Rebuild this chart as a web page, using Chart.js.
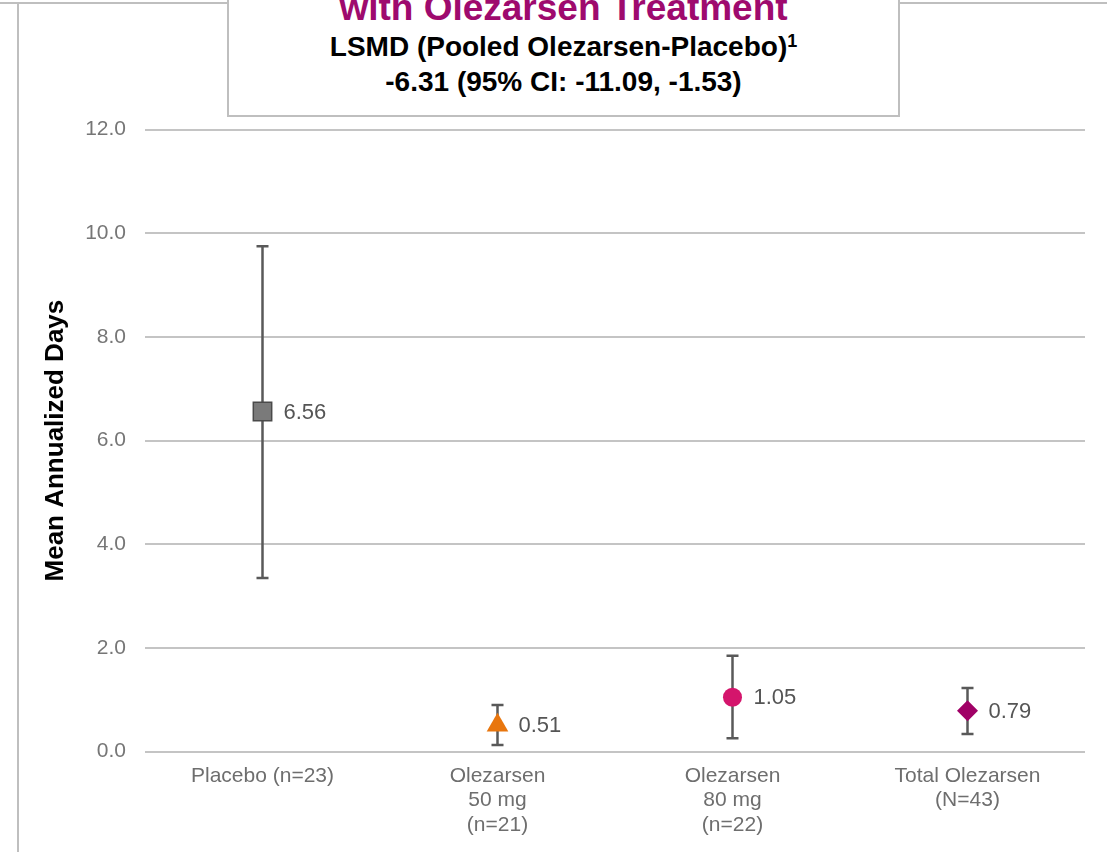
<!DOCTYPE html>
<html>
<head>
<meta charset="utf-8">
<script src="https://cdn.jsdelivr.net/npm/chart.js@4"></script>
<style>
  html, body { margin: 0; padding: 0; background: #fff; }
  body { width: 1107px; height: 852px; position: relative; overflow: hidden;
         font-family: "Liberation Sans", Arial, sans-serif; }
  #chart { position: absolute; left: 0; top: 0; }
  .frameTop { position: absolute; left: 0; top: 2px; width: 1107px; height: 2px; background: #bfbfbf; }
  .frameLeft { position: absolute; left: 17px; top: 2px; width: 2px; height: 850px; background: #bfbfbf; }
  .box { position: absolute; left: 227px; top: -60px; width: 669px; height: 173px;
         border: 2px solid #bfbfbf; background: #fff; }
  .line { position: absolute; left: 0; width: 100%; text-align: center; line-height: 1;
          font-weight: bold; white-space: nowrap; }
  .t1 { top: 46.7px; font-size: 37px; color: #9e0a6e; }
  .t2 { top: 90.8px; font-size: 28px; color: #000; }
  .t3 { top: 126.3px; font-size: 28px; color: #000; }
  .t2 span { font-size: 18px; position: relative; top: -9px; }
</style>
</head>
<body>
<canvas id="chart" width="1107" height="852"></canvas>
<div class="frameTop"></div>
<div class="frameLeft"></div>
<div class="box">
  <div class="line t1">with Olezarsen Treatment</div>
  <div class="line t2">LSMD (Pooled Olezarsen-Placebo)<span>1</span></div>
  <div class="line t3">-6.31 (95% CI: -11.09, -1.53)</div>
</div>
<script>
// data
var groups = ['Placebo (n=23)', ['Olezarsen', '50 mg', '(n=21)'], ['Olezarsen', '80 mg', '(n=22)'], ['Total Olezarsen', '(N=43)']];
var means = [6.56, 0.51, 1.05, 0.79];
var upperCI = [9.75, 0.90, 1.85, 1.23];
var lowerCI = [3.35, 0.13, 0.26, 0.34];
var yTicks = [0, 2, 4, 6, 8, 10, 12];

var markerStyles = ['rect', 'triangle', 'circle', 'rectRot'];
var markerColors = ['#7a7a7a', '#e8760e', '#d4156c', '#a00066'];

var FONT = '"Liberation Sans", Arial, sans-serif';

var errorBars = {
    id: 'errorBars',
    beforeDatasetsDraw: function (chart) {
        var ctx = chart.ctx;
        var x = chart.scales.x, y = chart.scales.y;
        ctx.save();
        ctx.strokeStyle = '#595959';
        ctx.lineWidth = 2.5;
        for (var i = 0; i < means.length; i++) {
            var px = x.getPixelForValue(i);
            var top = y.getPixelForValue(upperCI[i]);
            var bot = y.getPixelForValue(lowerCI[i]);
            ctx.beginPath();
            ctx.moveTo(px, top); ctx.lineTo(px, bot);
            ctx.moveTo(px - 6, top); ctx.lineTo(px + 6, top);
            ctx.moveTo(px - 6, bot); ctx.lineTo(px + 6, bot);
            ctx.stroke();
        }
        ctx.restore();
    },
    afterDatasetsDraw: function (chart) {
        var ctx = chart.ctx;
        var x = chart.scales.x, y = chart.scales.y;
        ctx.save();
        ctx.font = '22px ' + FONT;
        ctx.fillStyle = '#555555';
        ctx.textAlign = 'left';
        ctx.textBaseline = 'middle';
        for (var i = 0; i < means.length; i++) {
            ctx.fillText(means[i].toFixed(2), x.getPixelForValue(i) + 21, y.getPixelForValue(means[i]) + 1);
        }
        ctx.restore();
    }
};

new Chart(document.getElementById('chart').getContext('2d'), {
    type: 'line',
    data: {
        labels: groups,
        datasets: [{
            data: means,
            showLine: false,
            pointStyle: markerStyles,
            pointRadius: [13, 12.5, 9.5, 10.5],
            pointBackgroundColor: markerColors,
            pointBorderColor: ['#4a4a4a', '#e8760e', '#d4156c', '#a00066'],
            pointBorderWidth: [1.5, 0, 0, 0]
        }]
    },
    options: {
        responsive: false,
        animation: false,
        events: [],
        layout: { padding: { left: 0, right: 22, top: 129.5, bottom: 0 } },
        plugins: { legend: { display: false }, tooltip: { enabled: false } },
        scales: {
            x: {
                offset: true,
                grid: { display: false, drawTicks: false },
                border: { display: false },
                ticks: {
                    padding: 12,
                    color: '#6e6e6e',
                    font: { family: FONT, size: 21, lineHeight: 1.17 },
                    maxRotation: 0,
                    autoSkip: false
                },
                afterFit: function (s) { s.height = 100.3; }
            },
            y: {
                min: 0,
                max: 12,
                afterBuildTicks: function (s) { s.ticks = yTicks.map(function (v) { return { value: v }; }); },
                grid: { color: '#c4c4c4', lineWidth: 2, drawTicks: false },
                border: { display: false },
                ticks: {
                    padding: 19,
                    color: '#767676',
                    font: { family: FONT, size: 21 },
                    callback: function (v) { return Number(v).toFixed(1); }
                },
                title: {
                    display: true,
                    text: 'Mean Annualized Days',
                    color: '#000',
                    font: { family: FONT, size: 26, weight: 'bold', lineHeight: 1.2 },
                    padding: { top: 40, bottom: 0 }
                },
                afterFit: function (s) { s.width = 145; }
            }
        }
    },
    plugins: [errorBars]
});
</script>
</body>
</html>
